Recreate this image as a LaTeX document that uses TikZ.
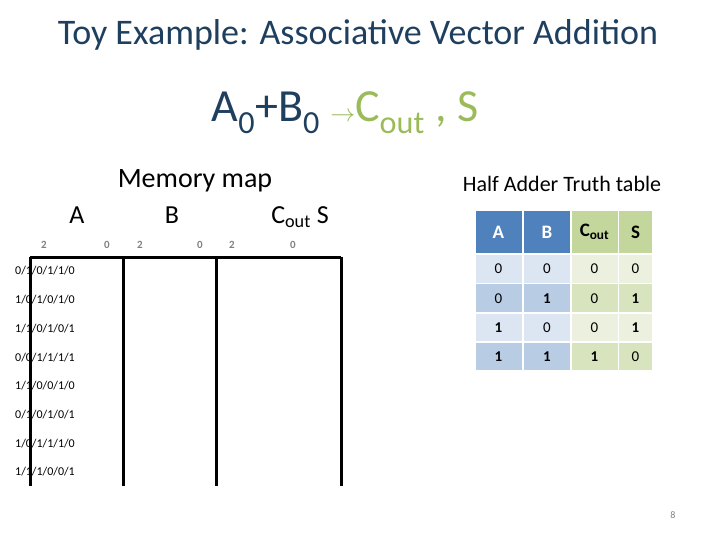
\documentclass[tikz,border=0pt]{standalone}
\usepackage{fontspec}
\setmainfont{Carlito}
\usetikzlibrary{positioning}
\definecolor{titlecol}{HTML}{1F3F5F}
\definecolor{hdblue}{HTML}{4F81BD}
\definecolor{hdgreen}{HTML}{C3D69B}
\definecolor{lblue}{HTML}{DCE6F2}
\definecolor{dblue}{HTML}{B8CCE4}
\definecolor{lgreen}{HTML}{EBF1DE}
\definecolor{dgreen}{HTML}{D7E4BD}
\definecolor{accgreen}{HTML}{9BBB59}
\tikzset{
  bit/.style={font=\fontsize{12}{12}\selectfont\rmfamily},
  idx/.style={font=\fontsize{11}{11}\selectfont\bfseries, text=gray},
  cell/.style={minimum width=46pt, minimum height=27.5pt, inner sep=0pt, font=\fontsize{15}{15}\selectfont},
  head/.style={cell, minimum height=42pt, font=\fontsize{19}{19}\selectfont\bfseries}
}
\newcommand{\mapbits}{0/1/0/1/1/0, 1/0/1/0/1/0, 1/1/0/1/0/1, 0/0/1/1/1/1, 1/1/0/0/1/0, 0/1/0/1/0/1, 1/0/1/1/1/0, 1/1/1/0/0/1}
\begin{document}
\begin{tikzpicture}[x=1pt,y=-1pt]
\useasboundingbox (0,0) rectangle (720,540);
% titles
\node[text=titlecol, font=\fontsize{36}{36}\selectfont] (title) at (358,35) {Toy Example: Associative Vector Addition};
\node[font=\fontsize{46}{46}\selectfont] (sum) at (345,113) {\textcolor{titlecol}{A\textsubscript{0}+B\textsubscript{0}} \textcolor{accgreen}{$\rightarrow$C\textsubscript{out} , S}};
% memory map
\node[font=\fontsize{28}{28}\selectfont] (mem) at (195,181) {Memory map};
\node[font=\fontsize{26}{26}\selectfont] (hA) at (77,215) {A};
\node[font=\fontsize{26}{26}\selectfont] (hB) at (172,215) {B};
\node[font=\fontsize{26}{26}\selectfont] (hC) at (300,217) {C\textsubscript{out} S};
\foreach \x/\t [count=\i] in {44/2,107/0,140/2,200/0,232/2,293/0}
  \node[idx] (idx\i) at (\x,245) {\t};
\draw[line width=3pt] (30,257) -- (341,257);
\foreach \x in {30,123,216,341}
  \draw[line width=3pt] (\x,257) -- (\x,486);
\foreach \r [count=\j] in \mapbits {
  \foreach \v [count=\k] in \r {
    \pgfmathsetmacro{\xx}{ifthenelse(\k<4, 45+31*(\k-1), 137+31*(\k-4))}
    \pgfmathsetmacro{\yy}{271+28.7*(\j-1)}
    \node[bit] (m\j-\k) at (\xx,\yy) {\v};
  }
}
% truth table
\node[font=\fontsize{22}{22}\selectfont] (tt) at (562,184) {Half Adder Truth table};
\node[head, fill=hdblue, text=white] (tA) at (498.5,232) {A};
\node[head, fill=hdblue, text=white] (tB) at (547,232) {B};
\node[head, fill=hdgreen, minimum width=46pt] (tC) at (594.5,232) {C\textsubscript{out}};
\node[head, fill=hdgreen, minimum width=33pt] (tS) at (635.5,232) {S};
\foreach \a/\b/\c/\s/\cb/\cg [count=\j] in {0/0/0/0/lblue/lgreen, 0/\textbf{1}/0/\textbf{1}/dblue/dgreen, \textbf{1}/0/0/\textbf{1}/lblue/lgreen, \textbf{1}/\textbf{1}/\textbf{1}/0/dblue/dgreen} {
  \pgfmathsetmacro{\yy}{269+29.2*(\j-1)}
  \node[cell, fill=\cb] (r\j a) at (498.5,\yy) {\a};
  \node[cell, fill=\cb] (r\j b) at (547,\yy) {\b};
  \node[cell, fill=\cg] (r\j c) at (594.5,\yy) {\c};
  \node[cell, fill=\cg, minimum width=33pt] (r\j s) at (635.5,\yy) {\s};
}
\node[text=gray, font=\fontsize{10}{10}\selectfont] (pg) at (673,515) {8};
\end{tikzpicture}
\end{document}
